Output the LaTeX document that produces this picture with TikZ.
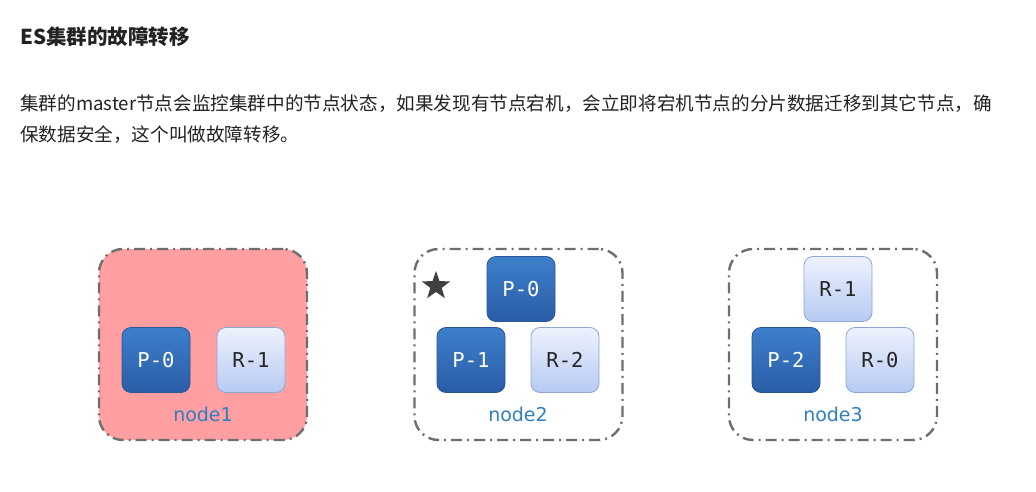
\documentclass[tikz,border=0pt]{standalone}
\usepackage{fontspec}
\newfontfamily\cjk{Noto Sans CJK SC}
\newfontfamily\shardfont{DejaVu Sans Mono}
\newfontfamily\labfont{DejaVu Sans}
\usetikzlibrary{shapes.geometric}
\definecolor{pinkfill}{HTML}{FF9FA2}
\definecolor{borderg}{HTML}{6E6E6E}
\definecolor{ptop}{HTML}{3D7FCB}
\definecolor{pbot}{HTML}{2A5CA6}
\definecolor{pedge}{HTML}{2A5697}
\definecolor{rtop}{HTML}{EEF2FD}
\definecolor{rbot}{HTML}{B6CAF3}
\definecolor{redge}{HTML}{8EA6D6}
\definecolor{labblue}{HTML}{2F7FC1}
\definecolor{textc}{HTML}{222222}
\tikzset{
  clusterbox/.style={draw=borderg, line width=2.4pt, rounded corners=24pt,
    minimum width=208pt, minimum height=191pt,
    dash pattern=on 11pt off 5pt on 2pt off 5pt},
  pshard/.style={draw=pedge, line width=0.8pt, rounded corners=9pt,
    minimum width=68pt, minimum height=65pt, top color=ptop, bottom color=pbot,
    text=white, font=\shardfont\fontsize{20.5}{24}\selectfont, inner sep=0pt},
  rshard/.style={draw=redge, line width=0.8pt, rounded corners=9pt,
    minimum width=68pt, minimum height=65pt, top color=rtop, bottom color=rbot,
    text=black!85, font=\shardfont\fontsize{20.5}{24}\selectfont, inner sep=0pt},
  nodelabel/.style={text=labblue, font=\labfont\fontsize{19}{22}\selectfont, inner sep=0pt},
  bodytext/.style={anchor=west, text=textc, inner sep=0pt, font=\cjk\fontsize{18.6}{22}\selectfont}
}
\begin{document}
\begin{tikzpicture}[x=1pt,y=-1pt]
\useasboundingbox[fill=white] (0,0) rectangle (1036,492);
% texts
\node[bodytext, font=\cjk\bfseries\fontsize{20.5}{24}\selectfont] (title) at (20,37) {ES集群的故障转移};
\node[bodytext] (line1) at (20,104) {集群的master节点会监控集群中的节点状态，如果发现有节点宕机，会立即将宕机节点的分片数据迁移到其它节点，确};
\node[bodytext] (line2) at (20,135) {保数据安全，这个叫做故障转移。};
% clusters
\node[clusterbox, fill=pinkfill] (c1) at (203,344.5) {};
\node[clusterbox] (c2) at (518.5,344.5) {};
\node[clusterbox] (c3) at (833,344.5) {};
% node1
\node[pshard] (n1p0) at (156,360) {P-0};
\node[rshard] (n1r1) at (251,360) {R-1};
\node[nodelabel] (l1) at (203,414) {node1};
% node2
\node[pshard] (n2p0) at (521,289) {P-0};
\node[pshard] (n2p1) at (471,360) {P-1};
\node[rshard] (n2r2) at (565,360) {R-2};
\node[nodelabel] (l2) at (518,414) {node2};
\node[star, star points=5, star point ratio=2.5, fill=black!75, minimum size=30pt, inner sep=0pt] (master) at (436,286) {};
% node3
\node[rshard] (n3r1) at (838,289) {R-1};
\node[pshard] (n3p2) at (786,360) {P-2};
\node[rshard] (n3r0) at (880,360) {R-0};
\node[nodelabel] (l3) at (833,414) {node3};
\end{tikzpicture}
\end{document}
